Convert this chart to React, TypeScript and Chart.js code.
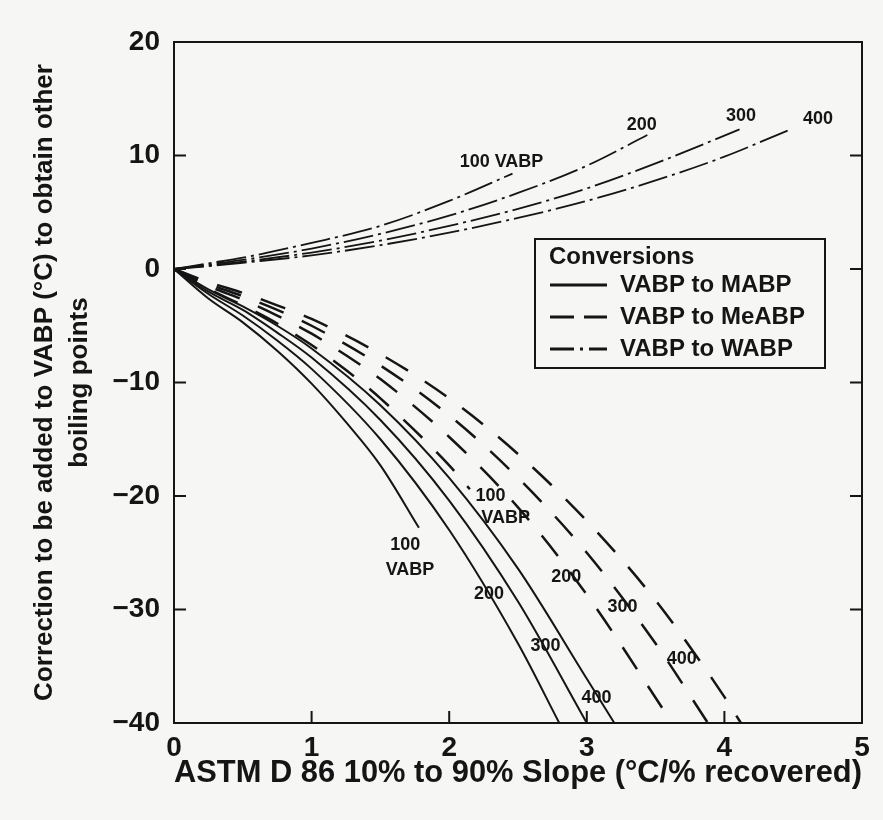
import React, { useEffect, useRef } from 'react';
import { Chart, registerables } from 'chart.js';

Chart.register(...registerables);

// ---------- data ----------
const X_TICKS = [0, 1, 2, 3, 4, 5];
const Y_TICKS = [20, 10, 0, -10, -20, -30, -40];

// VABP -> WABP (dash-dot)
const WABP_100_X = [0, 0.25, 0.5, 1, 1.5, 2, 2.46];
const WABP_100_Y = [0, 0.5, 1.0, 2.3, 3.8, 6.0, 8.4];
const WABP_200_X = [0, 0.25, 0.5, 1, 1.5, 2, 2.5, 3, 3.44];
const WABP_200_Y = [0, 0.4, 0.8, 1.8, 3.1, 4.7, 6.7, 9.1, 11.8];
const WABP_300_X = [0, 0.25, 0.5, 1, 1.5, 2, 2.5, 3, 3.5, 4.11];
const WABP_300_Y = [0, 0.3, 0.65, 1.45, 2.5, 3.8, 5.3, 7.1, 9.3, 12.3];
const WABP_400_X = [0, 0.25, 0.5, 1, 1.5, 2, 2.5, 3, 3.5, 4, 4.46];
const WABP_400_Y = [0, 0.25, 0.55, 1.2, 2.1, 3.2, 4.5, 6.0, 7.8, 9.9, 12.2];

// VABP -> MABP (solid)
const MABP_100_X = [0, 0.25, 0.5, 0.75, 1, 1.25, 1.5, 1.78];
const MABP_100_Y = [0, -2.6, -4.7, -7.2, -10.1, -13.5, -17.3, -22.8];
const MABP_200_X = [0, 0.25, 0.5, 0.75, 1, 1.5, 2, 2.5, 2.8];
const MABP_200_Y = [0, -2.2, -4.1, -6.3, -8.8, -15.0, -23.0, -33.0, -40];
const MABP_300_X = [0, 0.25, 0.5, 0.75, 1, 1.5, 2, 2.5, 3.0];
const MABP_300_Y = [0, -2.0, -3.6, -5.6, -7.8, -13.3, -20.4, -29.3, -40];
const MABP_400_X = [0, 0.25, 0.5, 0.75, 1, 1.5, 2, 2.5, 3, 3.2];
const MABP_400_Y = [0, -1.8, -3.3, -5.0, -7.0, -12.0, -18.4, -26.4, -36.1, -40];

// VABP -> MeABP (dashed)
const MEABP_100_X = [0, 0.25, 0.5, 0.75, 1, 1.25, 1.5, 2, 2.15];
const MEABP_100_Y = [0, -1.75, -3.2, -4.8, -6.7, -8.9, -11.4, -17.3, -19.4];
const MEABP_200_X = [0, 0.25, 0.5, 0.75, 1, 1.25, 1.5, 2, 2.5, 3, 3.62];
const MEABP_200_Y = [0, -1.5, -2.7, -4.1, -5.7, -7.6, -9.7, -14.8, -21.0, -28.7, -40];
const MEABP_300_X = [0, 0.25, 0.5, 0.75, 1, 1.5, 2, 2.5, 3, 3.5, 3.88];
const MEABP_300_Y = [0, -1.3, -2.4, -3.6, -5.0, -8.5, -12.9, -18.4, -25.0, -33.0, -40];
const MEABP_400_X = [0, 0.25, 0.5, 0.75, 1, 1.5, 2, 2.5, 3, 3.5, 4, 4.12];
const MEABP_400_Y = [0, -1.15, -2.1, -3.2, -4.4, -7.5, -11.4, -16.3, -22.2, -29.2, -37.7, -40];

// curve annotations (data coordinates)
const CURVE_LABEL_TEXT = ['100 VABP', '200', '300', '400', '100', 'VABP', '200', '300', '400', '100', 'VABP', '200', '300', '400'];
const CURVE_LABEL_X = [2.38, 3.40, 4.12, 4.68, 1.68, 1.715, 2.29, 2.70, 3.07, 2.30, 2.41, 2.85, 3.26, 3.69];
const CURVE_LABEL_Y = [9.4, 12.7, 13.5, 13.2, -24.3, -26.5, -28.6, -33.2, -37.8, -20.0, -21.9, -27.1, -29.8, -34.4];

const LEGEND_TITLE = 'Conversions';
const LEGEND_LABELS = ['VABP to MABP', 'VABP to MeABP', 'VABP to WABP'];

const X_TITLE = 'ASTM D 86 10% to 90% Slope (°C/% recovered)';
const Y_TITLE = ['Correction to be added to VABP (°C) to obtain other', 'boiling points'];

// ---------- styling ----------
const FONT = '"Liberation Sans", Arial, Helvetica, sans-serif';
const INK = '#151515';
const BG = '#f6f6f4';
const SOLID: number[] = [];
const DASHED = [26, 20];
const DASHDOT = [30, 5, 3, 5];

const pts = (xs: number[], ys: number[]) => xs.map((x, i) => ({ x, y: ys[i] }));

const mk = (label: string, xs: number[], ys: number[], dash: number[], width: number) => ({
  label,
  data: pts(xs, ys),
  borderColor: INK,
  borderWidth: width,
  borderDash: dash,
  pointRadius: 0,
  fill: false,
  cubicInterpolationMode: 'monotone' as const,
});

const bgPlugin = {
  id: 'bg',
  beforeDraw(chart: any) {
    const { ctx, width, height } = chart;
    ctx.save();
    ctx.fillStyle = BG;
    ctx.fillRect(0, 0, width, height);
    ctx.restore();
  },
};

const framePlugin = {
  id: 'frame',
  afterDatasetsDraw(chart: any) {
    const { ctx, chartArea: a, scales } = chart;
    ctx.save();
    ctx.strokeStyle = INK;
    ctx.lineWidth = 2;
    ctx.setLineDash([]);
    ctx.strokeRect(a.left, a.top, a.right - a.left, a.bottom - a.top);
    const tl = 12;
    ctx.beginPath();
    X_TICKS.filter((v) => v > 0 && v < 5).forEach((v) => {
      const px = scales.x.getPixelForValue(v);
      ctx.moveTo(px, a.bottom);
      ctx.lineTo(px, a.bottom - tl);
    });
    Y_TICKS.filter((v) => v < 20 && v > -40).forEach((v) => {
      const py = scales.y.getPixelForValue(v);
      ctx.moveTo(a.left, py);
      ctx.lineTo(a.left + tl, py);
      ctx.moveTo(a.right, py);
      ctx.lineTo(a.right - tl, py);
    });
    ctx.stroke();

    // curve annotations
    ctx.fillStyle = INK;
    ctx.font = `bold 18px ${FONT}`;
    ctx.textAlign = 'center';
    ctx.textBaseline = 'middle';
    CURVE_LABEL_TEXT.forEach((t, i) => {
      ctx.fillText(t, scales.x.getPixelForValue(CURVE_LABEL_X[i]), scales.y.getPixelForValue(CURVE_LABEL_Y[i]));
    });
    ctx.restore();
  },
};

const legendPlugin = {
  id: 'convLegend',
  afterDraw(chart: any) {
    const { ctx, chartArea: a } = chart;
    const w = 290;
    const h = 129;
    const bx = a.right - 37 - w;
    const by = a.top + 197;
    ctx.save();
    ctx.fillStyle = BG;
    ctx.fillRect(bx, by, w, h);
    ctx.strokeStyle = INK;
    ctx.lineWidth = 2;
    ctx.setLineDash([]);
    ctx.strokeRect(bx, by, w, h);
    ctx.fillStyle = INK;
    ctx.font = `bold 24px ${FONT}`;
    ctx.textAlign = 'left';
    ctx.textBaseline = 'middle';
    ctx.fillText(LEGEND_TITLE, bx + 14, by + 18);
    const dashes = [SOLID, [24, 10], [24, 6, 3, 6]];
    LEGEND_LABELS.forEach((lab, i) => {
      const cy = by + 46 + i * 32;
      ctx.beginPath();
      ctx.lineWidth = 3;
      ctx.setLineDash(dashes[i]);
      ctx.moveTo(bx + 15, cy);
      ctx.lineTo(bx + 72, cy);
      ctx.stroke();
      ctx.setLineDash([]);
      ctx.fillText(lab, bx + 85, cy);
    });
    ctx.restore();
  },
};

export default function App() {
  const ref = useRef<HTMLCanvasElement>(null);

  useEffect(() => {
    const canvas = ref.current;
    if (!canvas) return;
    const datasets = [
      mk('WABP 100', WABP_100_X, WABP_100_Y, DASHDOT, 1.8),
      mk('WABP 200', WABP_200_X, WABP_200_Y, DASHDOT, 1.8),
      mk('WABP 300', WABP_300_X, WABP_300_Y, DASHDOT, 1.8),
      mk('WABP 400', WABP_400_X, WABP_400_Y, DASHDOT, 1.8),
      mk('MABP 100', MABP_100_X, MABP_100_Y, SOLID, 2),
      mk('MABP 200', MABP_200_X, MABP_200_Y, SOLID, 2),
      mk('MABP 300', MABP_300_X, MABP_300_Y, SOLID, 2),
      mk('MABP 400', MABP_400_X, MABP_400_Y, SOLID, 2),
      mk('MeABP 100', MEABP_100_X, MEABP_100_Y, DASHED, 2.5),
      mk('MeABP 200', MEABP_200_X, MEABP_200_Y, DASHED, 2.5),
      mk('MeABP 300', MEABP_300_X, MEABP_300_Y, DASHED, 2.5),
      mk('MeABP 400', MEABP_400_X, MEABP_400_Y, DASHED, 2.5),
    ];
    const tickFont = { family: FONT, size: 28, weight: 'bold' as const };
    const chart = new Chart(canvas, {
      type: 'line',
      data: { datasets },
      options: {
        animation: false,
        responsive: false,
        maintainAspectRatio: false,
        layout: { padding: { top: 42, right: 21, bottom: 0, left: 0 } },
        plugins: { legend: { display: false }, tooltip: { enabled: false } },
        elements: { point: { radius: 0 } },
        scales: {
          x: {
            type: 'linear',
            min: 0,
            max: 5,
            afterBuildTicks: (s: any) => {
              s.ticks = X_TICKS.map((v) => ({ value: v }));
            },
            ticks: { color: INK, font: tickFont, padding: 8, maxRotation: 0, autoSkip: false, callback: (v: any) => String(v) },
            grid: { display: false, drawTicks: false },
            border: { display: false },
            title: {
              display: true,
              text: X_TITLE,
              color: INK,
              font: { family: FONT, size: 31, weight: 'bold' },
              padding: { top: 0, bottom: 28 },
            },
            afterFit: (s: any) => {
              s.height = 97;
            },
          },
          y: {
            type: 'linear',
            min: -40,
            max: 20,
            afterBuildTicks: (s: any) => {
              s.ticks = Y_TICKS.map((v) => ({ value: v }));
            },
            ticks: {
              color: INK,
              font: tickFont,
              padding: 14,
              autoSkip: false,
              callback: (v: any) => (Number(v) < 0 ? '\u2212' + Math.abs(Number(v)) : String(v)),
            },
            grid: { display: false, drawTicks: false },
            border: { display: false },
            title: {
              display: true,
              text: Y_TITLE,
              color: INK,
              font: { family: FONT, size: 26, weight: 'bold', lineHeight: 1.35 },
              padding: { top: 27, bottom: 0 },
            },
            afterFit: (s: any) => {
              s.width = 174;
            },
          },
        },
      } as any,
      plugins: [bgPlugin, framePlugin, legendPlugin],
    });
    return () => chart.destroy();
  }, []);

  return (
    <div style={{ position: 'fixed', left: 0, top: 0, width: 883, height: 820, background: BG }}>
      <canvas ref={ref} width={883} height={820} style={{ width: 883, height: 820, display: 'block' }} />
    </div>
  );
}
